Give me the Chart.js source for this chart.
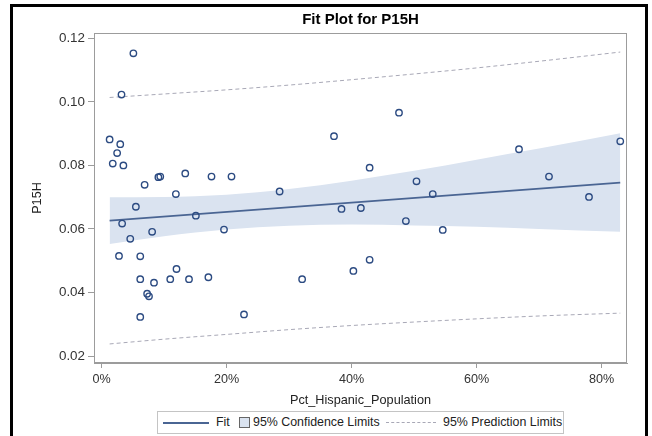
<!DOCTYPE html>
<html>
<head>
<meta charset="utf-8">
<script src="https://cdn.jsdelivr.net/npm/chart.js@4.4.1/dist/chart.umd.min.js"></script>
<style>
  html, body { margin: 0; padding: 0; background: #fff; }
  #wrap { position: relative; width: 652px; height: 436px; overflow: hidden; background: #fff; }
  #c { position: absolute; left: 0; top: 0; }
  #frame { position: absolute; left: 10px; top: 4px; width: 632px; height: 470px; border: 3px solid #000; pointer-events: none; }
  #legend { position: absolute; left: 157px; top: 411px; width: 405px; height: 21px; border: 1px solid #c4c4c4; background: #fff;
            font-family: 'Liberation Sans', Arial, sans-serif; font-size: 12.4px; color: #222; }
  #legend .it { position: absolute; top: 0; line-height: 21px; white-space: nowrap; }
  #legend .fitline { position: absolute; left: 5px; top: 10px; width: 46px; height: 0; border-top: 2px solid #4a6593; }
  #legend .sq { position: absolute; left: 81px; top: 5px; width: 9px; height: 9px; border: 1px solid #666; background: #dae3f0; }
  #legend .dash { position: absolute; left: 228px; top: 10px; width: 50px; height: 0; border-top: 1px dashed #a8a8b6; }
</style>
</head>
<body>
<div id="wrap">
  <canvas id="c" width="652" height="436"></canvas>
  <div id="frame"></div>
  <div id="legend">
    <div class="fitline"></div>
    <div class="it" style="left:58px">Fit</div>
    <div class="sq"></div>
    <div class="it" style="left:95px">95% Confidence Limits</div>
    <div class="dash"></div>
    <div class="it" style="left:285px">95% Prediction Limits</div>
  </div>
</div>
<script>
// ---- data ----
const pctHispanic = [0.051,0.032,0.013,0.030,0.025,0.018,0.035,0.069,0.091,0.094,0.134,0.119,0.176,0.208,0.055,0.151,0.285,0.033,0.081,0.196,0.046,0.028,0.062,0.120,0.062,0.084,0.110,0.140,0.171,0.073,0.076,0.062,0.228,0.476,0.372,0.429,0.504,0.530,0.384,0.415,0.487,0.546,0.429,0.403,0.321,0.668,0.830,0.716,0.780];
const p15h = [0.1153,0.1023,0.0882,0.0867,0.0839,0.0806,0.0800,0.0739,0.0763,0.0765,0.0775,0.0710,0.0765,0.0765,0.0670,0.0642,0.0718,0.0617,0.0591,0.0598,0.0569,0.0515,0.0514,0.0474,0.0442,0.0431,0.0442,0.0442,0.0448,0.0396,0.0388,0.0323,0.0331,0.0966,0.0892,0.0793,0.0750,0.0710,0.0663,0.0666,0.0625,0.0597,0.0503,0.0468,0.0442,0.0851,0.0876,0.0765,0.0701];

const fitX = [0.013, 0.830];
const fitY = [0.0626, 0.0746];

const limitX = [0.013,0.1,0.2,0.3,0.4,0.5,0.6,0.7,0.83];
const clUpper = [0.0700,0.0701,0.0708,0.0726,0.0752,0.0783,0.0818,0.0853,0.0901];
const clLower = [0.0553,0.0577,0.0598,0.0610,0.0614,0.0611,0.0607,0.0600,0.0591];
const plUpper = [0.1014,0.1025,0.1038,0.1053,0.1070,0.1088,0.1107,0.1128,0.1157];
const plLower = [0.0238,0.0253,0.0268,0.0283,0.0296,0.0307,0.0317,0.0326,0.0335];

const xTickValues = [0, 0.2, 0.4, 0.6, 0.8];
const xTickLabels = ['0%', '20%', '40%', '60%', '80%'];
const yTickValues = [0.02, 0.04, 0.06, 0.08, 0.10, 0.12];
const yTickLabels = ['0.02', '0.04', '0.06', '0.08', '0.10', '0.12'];

// ---- build ----
const zip = (xs, ys) => xs.map((x, i) => ({ x: x, y: ys[i] }));
const FONT = "'Liberation Sans', Arial, sans-serif";
const AXIS = '#9c9c9c';

const boxPlugin = {
  id: 'plotBox',
  afterDraw(chart) {
    const { ctx, chartArea: a } = chart;
    ctx.save();
    ctx.strokeStyle = AXIS;
    ctx.lineWidth = 1;
    ctx.strokeRect(Math.round(a.left) + 0.5, Math.round(a.top) + 0.5,
                   Math.round(a.right - a.left) - 1, Math.round(a.bottom - a.top) - 1);
    ctx.restore();
  }
};

new Chart(document.getElementById('c'), {
  type: 'scatter',
  data: {
    datasets: [
      { label: 'P15H', data: zip(pctHispanic, p15h), order: 0,
        pointStyle: 'circle', pointRadius: 3.2, pointBorderWidth: 1.4,
        borderColor: '#2c4b82', backgroundColor: 'rgba(0,0,0,0)' },
      { type: 'line', label: 'Fit', data: zip(fitX, fitY), order: 1,
        borderColor: '#4a6593', borderWidth: 1.7, pointRadius: 0, fill: false },
      { type: 'line', label: '95% Prediction Limits', data: zip(limitX, plUpper), order: 2,
        borderColor: '#a8a8b6', borderWidth: 1, borderDash: [4, 3], pointRadius: 0, fill: false,
        cubicInterpolationMode: 'monotone' },
      { type: 'line', label: '95% Prediction Limits (lower)', data: zip(limitX, plLower), order: 2,
        borderColor: '#a8a8b6', borderWidth: 1, borderDash: [4, 3], pointRadius: 0, fill: false,
        cubicInterpolationMode: 'monotone' },
      { type: 'line', label: '95% Confidence Limits', data: zip(limitX, clUpper), order: 3,
        borderColor: 'rgba(0,0,0,0)', borderWidth: 0, backgroundColor: '#dae3f0', fill: '+1', pointRadius: 0,
        cubicInterpolationMode: 'monotone' },
      { type: 'line', label: '95% Confidence Limits (lower)', data: zip(limitX, clLower), order: 3,
        borderColor: 'rgba(0,0,0,0)', borderWidth: 0, pointRadius: 0, fill: false,
        cubicInterpolationMode: 'monotone' }
    ]
  },
  options: {
    responsive: false,
    animation: false,
    devicePixelRatio: 1,
    layout: { padding: { left: 0, right: 25, top: 0, bottom: 0 } },
    plugins: {
      legend: { display: false },
      tooltip: { enabled: false },
      title: { display: true, text: 'Fit Plot for P15H', fullSize: false, color: '#000',
               font: { family: FONT, size: 15, weight: 'bold' }, padding: { top: 11, bottom: 4 } }
    },
    scales: {
      x: {
        type: 'linear', min: -0.012, max: 0.8408,
        afterBuildTicks: s => { s.ticks = xTickValues.map(v => ({ value: v })); },
        afterFit: s => { s.height = 73; },
        ticks: { callback: (v, i) => xTickLabels[i], font: { family: FONT, size: 12.6 }, color: '#333',
                 padding: 4, maxRotation: 0, autoSkip: false },
        grid: { drawOnChartArea: false, tickLength: 5, color: AXIS },
        border: { color: AXIS },
        title: { display: true, text: 'Pct_Hispanic_Population', color: '#222',
                 font: { family: FONT, size: 12.7 }, padding: { top: 0, bottom: 28 } }
      },
      y: {
        type: 'linear', min: 0.0178, max: 0.1217,
        afterBuildTicks: s => { s.ticks = yTickValues.map(v => ({ value: v })); },
        afterFit: s => { s.width = 94; },
        ticks: { callback: (v, i) => yTickLabels[i], font: { family: FONT, size: 13.4 }, color: '#333',
                 padding: 3, autoSkip: false },
        grid: { drawOnChartArea: false, tickLength: 6, color: AXIS },
        border: { color: AXIS },
        title: { display: true, text: 'P15H', color: '#222',
                 font: { family: FONT, size: 12.7 }, padding: { top: 30, bottom: 0 } }
      }
    }
  },
  plugins: [boxPlugin]
});
</script>
</body>
</html>
